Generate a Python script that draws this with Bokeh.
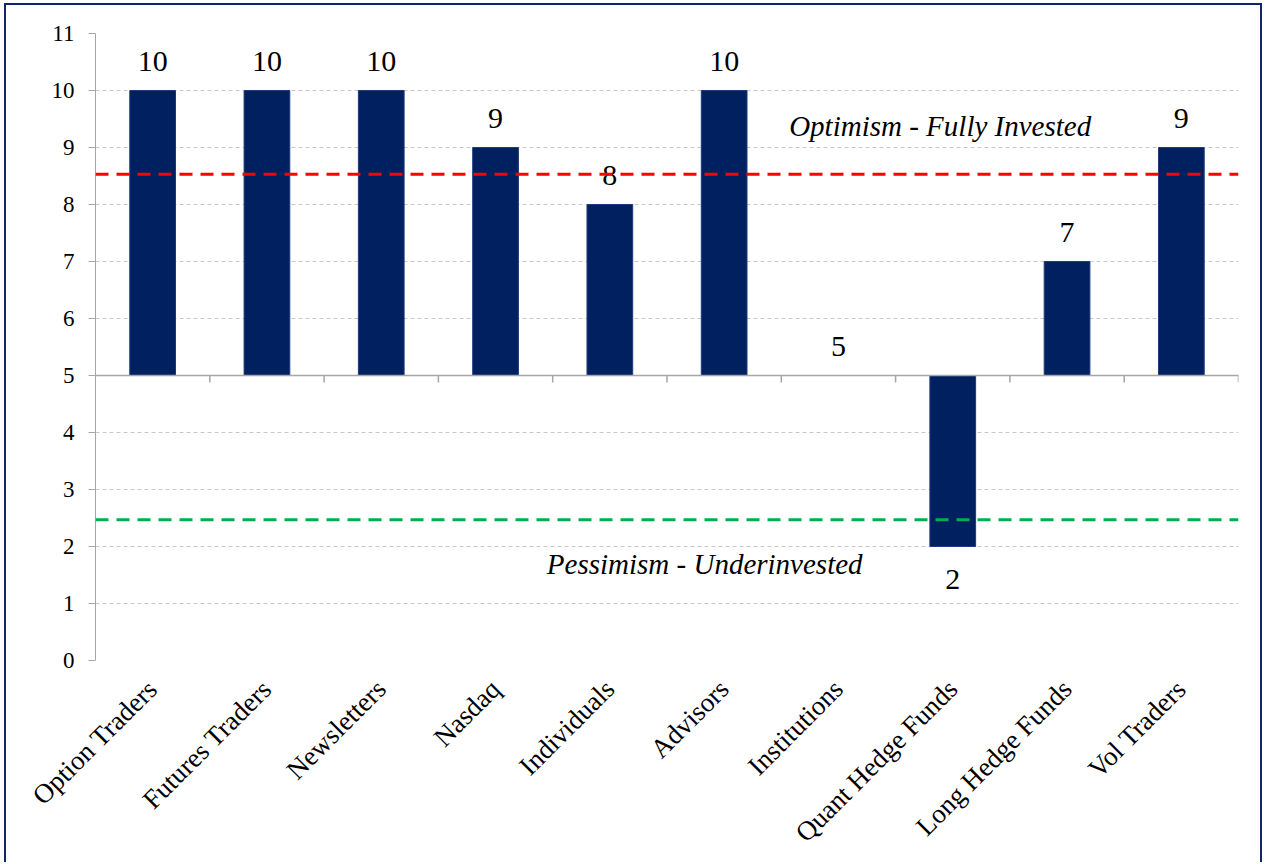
from bokeh.plotting import figure
from bokeh.models import (ColumnDataSource, Range1d, FixedTicker, Span)
from bokeh.core.properties import value
from bokeh.embed import file_html
from bokeh.resources import INLINE
import math

categories = ["Option Traders", "Futures Traders", "Newsletters", "Nasdaq", "Individuals",
              "Advisors", "Institutions", "Quant Hedge Funds", "Long Hedge Funds", "Vol Traders"]
scores = [10, 10, 10, 9, 8, 10, 5, 2, 7, 9]
neutral = 5
optimism_level = 8.53
pessimism_level = 2.47
y_ticks = list(range(0, 12))
optimism_text = "Optimism - Fully Invested"
pessimism_text = "Pessimism - Underinvested"

SERIF = "Liberation Serif"
NAVY = "#002060"

xs = [i + 0.5 for i in range(len(categories))]
src = ColumnDataSource(dict(
    x=xs,
    top=scores,
    bottom=[neutral] * len(scores),
    label=[str(v) for v in scores],
    yoff=[-29 if v >= neutral else 33 for v in scores],
))

p = figure(width=1258, height=859, output_backend="svg", toolbar_location=None,
           x_range=Range1d(0, len(categories)), y_range=Range1d(0, 11),
           min_border_left=89, min_border_right=26, min_border_top=28, min_border_bottom=204)
p.outline_line_color = None
p.background_fill_color = "white"
p.border_fill_color = "white"
p.styles = {"margin-left": "4px", "margin-top": "3px",
            "border-left": "2px solid #10256B", "border-top": "2px solid #10256B",
            "border-right": "2px solid #10256B"}

# grid
p.xgrid.grid_line_color = None
p.ygrid.ticker = FixedTicker(ticks=y_ticks)
p.ygrid.grid_line_color = "#C8C8C8"
p.ygrid.grid_line_dash = "4 3"
p.ygrid.grid_line_width = 1

# y axis
p.yaxis.ticker = FixedTicker(ticks=y_ticks)
p.yaxis.axis_line_color = "#A6A6A6"
p.yaxis.major_tick_line_color = "#A6A6A6"
p.yaxis.major_tick_out = 7
p.yaxis.major_tick_in = 0
p.yaxis.minor_tick_line_color = None
p.yaxis.major_label_text_font = SERIF
p.yaxis.major_label_text_font_size = "23px"
p.yaxis.major_label_text_color = "black"
p.yaxis.major_label_standoff = 14

# x axis (labels only)
p.xaxis.ticker = FixedTicker(ticks=xs)
p.xaxis.major_label_overrides = {x: c for x, c in zip(xs, categories)}
p.xaxis.axis_line_color = None
p.xaxis.major_tick_line_color = None
p.xaxis.minor_tick_line_color = None
p.xaxis.major_label_orientation = math.pi / 4
p.xaxis.major_label_text_font = SERIF
p.xaxis.major_label_text_font_size = "27px"
p.xaxis.major_label_text_color = "black"
p.xaxis.major_label_standoff = 18

# bars
p.vbar(x="x", top="top", bottom="bottom", width=0.4, source=src,
       fill_color=NAVY, line_color="#1F3A7A", line_width=1)

# neutral axis line with ticks
p.add_layout(Span(location=neutral, dimension="width", line_color="#A6A6A6", line_width=1.5))
bx = list(range(1, len(categories) + 1))
p.segment(x0=bx, y0=[neutral] * len(bx), x1=bx, y1=[neutral - 7 / 57] * len(bx),
          line_color="#A6A6A6", line_width=1.5)

# threshold lines
p.add_layout(Span(location=optimism_level, dimension="width", line_color="#FF0000",
                  line_width=3, line_dash="13 8"))
p.add_layout(Span(location=pessimism_level, dimension="width", line_color="#00B050",
                  line_width=3, line_dash="13 8"))

# value labels
p.text(x="x", y="top", text="label", source=src, y_offset="yoff",
       text_align="center", text_baseline="alphabetic",
       text_font=value(SERIF), text_font_size="30px", text_color="black")

# annotation texts
p.text(x=[7.39], y=[9.37], text=[optimism_text], text_align="center",
       text_baseline="alphabetic", text_font=value(SERIF), text_font_style="italic",
       text_font_size="29px", text_color="black")
p.text(x=[5.33], y=[1.69], text=[pessimism_text], text_align="center",
       text_baseline="alphabetic", text_font=value(SERIF), text_font_style="italic",
       text_font_size="29px", text_color="black")

open("out.html", "w").write(file_html(p, INLINE))
